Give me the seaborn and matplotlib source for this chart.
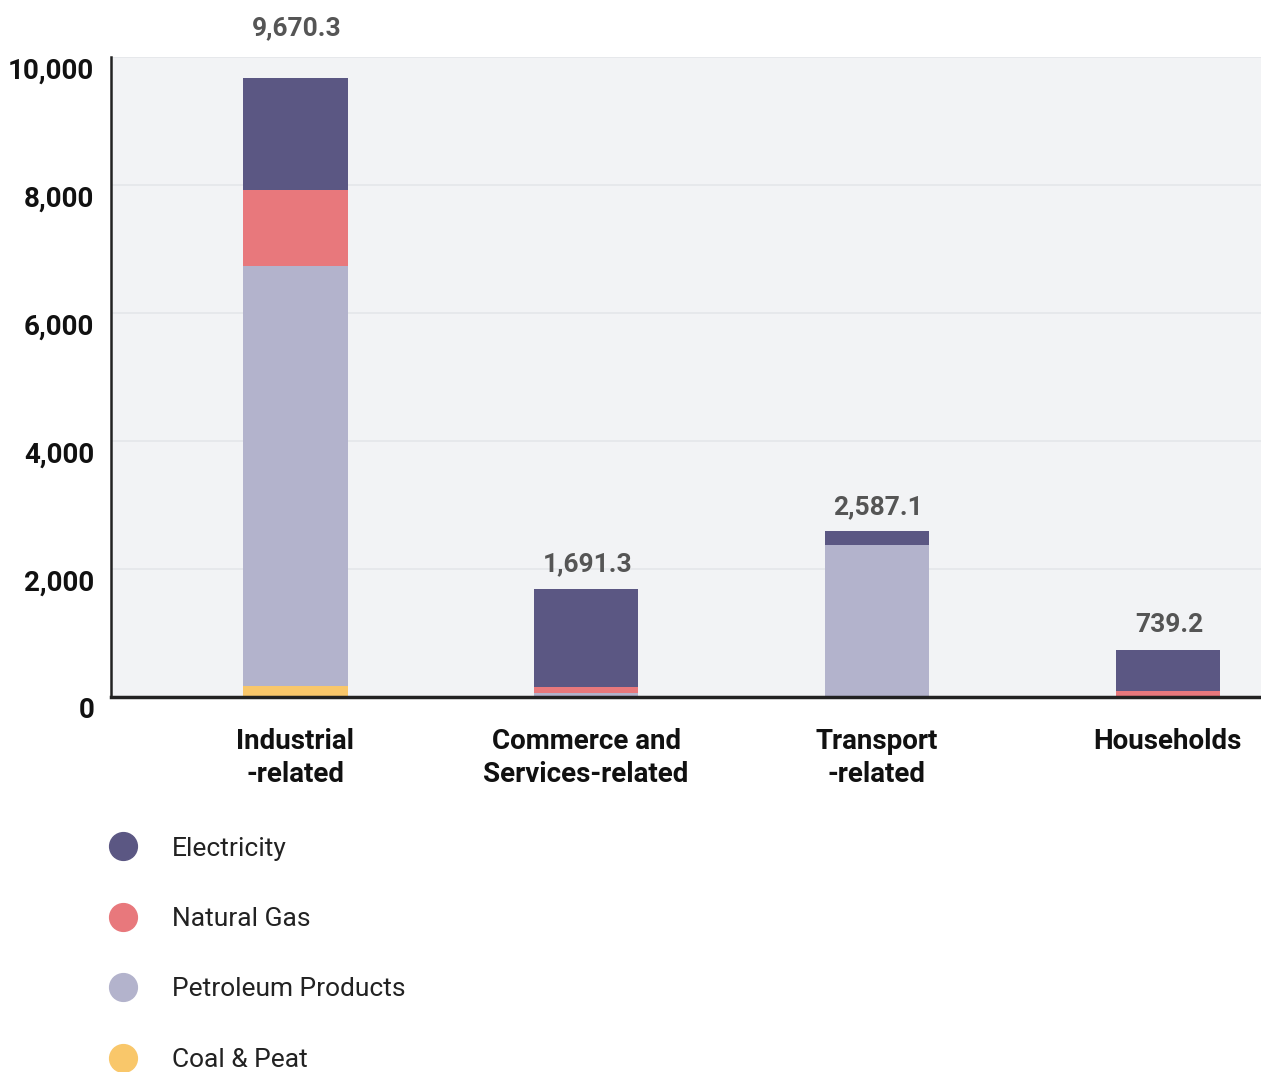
import matplotlib
matplotlib.use("Agg")
import matplotlib.pyplot as plt
import matplotlib.transforms as mtransforms
from matplotlib.lines import Line2D
import seaborn as sns
import numpy as np
import pandas as pd

categories = ["Industrial\n-related", "Commerce and\nServices-related", "Transport\n-related", "Households"]
coal = [170, 0, 0, 0]
petroleum = [6560, 60, 2370, 20]
natural_gas = [1190, 90, 0, 70]
electricity = [1750.3, 1541.3, 217.1, 649.2]
totals = [9670.3, 1691.3, 2587.1, 739.2]
total_labels = ["9,670.3", "1,691.3", "2,587.1", "739.2"]
yticks = [0, 2000, 4000, 6000, 8000, 10000]

layers = [("Coal & Peat", coal, "#f9c76a"),
          ("Petroleum Products", petroleum, "#b3b3cc"),
          ("Natural Gas", natural_gas, "#e8787c"),
          ("Electricity", electricity, "#5b5783")]

sns.set_theme(style="white")
plt.rcParams["font.family"] = ["Roboto", "DejaVu Sans"]

fig = plt.figure(figsize=(12.61, 10.72), dpi=100)
ax = fig.add_axes([111/1261, 1-697/1072, 1-111/1261, (697-57)/1072])
ax.set_facecolor("#f2f3f5")

bottom = np.zeros(len(categories))
for name, vals, col in layers:
    df = pd.DataFrame({"cat": categories, "val": vals})
    sns.barplot(data=df, x="cat", y="val", order=categories, color=col,
                bottom=bottom.copy(), width=0.36, saturation=1, ax=ax,
                linewidth=0, edgecolor=col)
    bottom += np.array(vals, dtype=float)

ax.set_ylim(0, 10000)
ax.set_xlim(-0.633, 3.32)
ax.set_yticks(yticks)
ax.set_yticklabels([f"{v:,}" for v in yticks], fontsize=20, fontweight="bold", color="#111111")
ax.yaxis.grid(True, color="#e4e6e9", linewidth=1.2)
ax.set_axisbelow(True)
ax.tick_params(axis="both", length=0)
ax.tick_params(axis="y", pad=12)
ax.tick_params(axis="x", pad=22)
ax.set_xticks(range(len(categories)))
ax.set_xticklabels(categories, fontsize=20, fontweight="bold", color="#111111", linespacing=1.3)
ax.set_xlabel("")
ax.set_ylabel("")
for lab in ax.get_xticklabels():
    lab.set_verticalalignment("top")

offset = mtransforms.ScaledTranslation(0, -11/100, fig.dpi_scale_trans)
for lab in ax.get_yticklabels():
    lab.set_transform(lab.get_transform() + offset)

for s in ["top", "right"]:
    ax.spines[s].set_visible(False)
ax.spines["left"].set_color("#222222")
ax.spines["left"].set_linewidth(1.8)
ax.spines["bottom"].set_color("#222222")
ax.spines["bottom"].set_linewidth(2.5)

label_offsets = [27, 9, 9, 9]
for i, (t, lbl) in enumerate(zip(totals, total_labels)):
    ax.annotate(lbl, xy=(i, t), xytext=(1, label_offsets[i]), textcoords="offset points",
                ha="center", va="bottom", fontsize=19, fontweight="bold", color="#555555",
                annotation_clip=False)

handles = [Line2D([0], [0], marker="o", linestyle="", markersize=20,
                  markerfacecolor=col, markeredgecolor=col, label=name)
           for name, vals, col in reversed(layers)]
fig.legend(handles=handles, loc="upper left", bbox_to_anchor=(86/1261, 1-826/1072),
           frameon=False, fontsize=19, labelspacing=1.76, handletextpad=0.84,
           labelcolor="#222222", borderaxespad=0)

fig.savefig("out.png", dpi=100)
